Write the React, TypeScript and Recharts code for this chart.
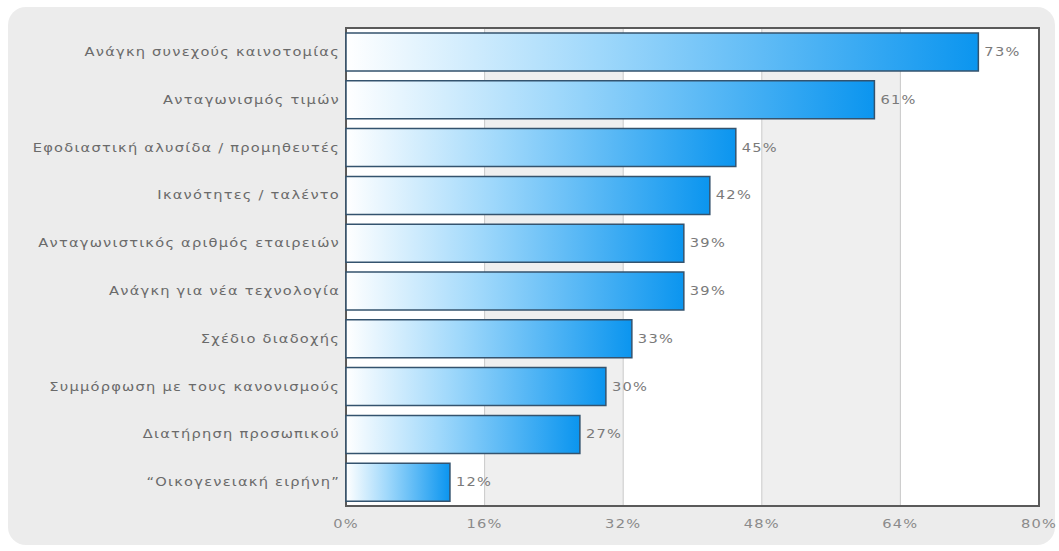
import React from "react";
import {
  BarChart,
  Bar,
  XAxis,
  YAxis,
  CartesianGrid,
  LabelList,
  ReferenceArea,
} from "recharts";

const categories = [
  "Ανάγκη συνεχούς καινοτομίας",
  "Ανταγωνισμός τιμών",
  "Εφοδιαστική αλυσίδα / προμηθευτές",
  "Ικανότητες / ταλέντο",
  "Ανταγωνιστικός αριθμός εταιρειών",
  "Ανάγκη για νέα τεχνολογία",
  "Σχέδιο διαδοχής",
  "Συμμόρφωση με τους κανονισμούς",
  "Διατήρηση προσωπικού",
  "\u201CΟικογενειακή ειρήνη\u201D",
];

const values = [73, 61, 45, 42, 39, 39, 33, 30, 27, 12];

const xTicks = [0, 16, 32, 48, 64, 80];

const data = categories.map((name, i) => ({ name, value: values[i] }));

const FONT = "'DejaVu Sans', Verdana, sans-serif";
const STRETCH = 1.22;

// the original font is wide and short, so stretch the text sideways
const WideText = ({ x, y, anchor, fill, children }: any) => (
  <text
    transform={`translate(${x},${y}) scale(${STRETCH},1)`}
    textAnchor={anchor}
    dominantBaseline="central"
    fill={fill}
    fontSize={12}
    fontFamily={FONT}
    letterSpacing={1}
  >
    {children}
  </text>
);

const CategoryTick = ({ x, y, payload }: any) => (
  <WideText x={x} y={y} anchor="end" fill="#6a6a6a">
    {payload.value}
  </WideText>
);

const PercentTick = ({ x, y, payload }: any) => (
  <WideText x={x} y={y + 6} anchor="middle" fill="#8a8a8a">
    {`${payload.value}%`}
  </WideText>
);

const ValueLabel = ({ x, y, width, height, value }: any) => (
  <WideText x={x + width + 6} y={y + height / 2} anchor="start" fill="#7a7a7a">
    {`${value}%`}
  </WideText>
);

export default function App() {
  return (
    <div
      style={{
        position: "absolute",
        left: 0,
        top: 0,
        width: 1059,
        height: 551,
        background: "#ffffff",
        fontFamily: FONT,
        overflow: "hidden",
      }}
    >
      <div
        style={{
          position: "absolute",
          left: 8,
          top: 7,
          width: 1047,
          height: 538,
          background: "#ececec",
          borderRadius: 18,
        }}
      />
      <div style={{ position: "absolute", left: 0, top: 0 }}>
        <BarChart
          width={1059}
          height={551}
          data={data}
          layout="vertical"
          margin={{ top: 28, right: 20, bottom: 15, left: 0 }}
          barSize={38}
        >
          <defs>
            <linearGradient id="barGrad" x1="0" y1="0" x2="1" y2="0">
              <stop offset="0%" stopColor="#ffffff" />
              <stop offset="40%" stopColor="#9fd8fb" />
              <stop offset="100%" stopColor="#0b95ef" />
            </linearGradient>
          </defs>
          <CartesianGrid
            horizontal={false}
            stroke="#c9c9c9"
            fill="#ffffff"
            verticalFill={["#ffffff", "#efefef"]}
            fillOpacity={1}
          />
          <XAxis
            type="number"
            domain={[0, 80]}
            ticks={xTicks}
            axisLine={false}
            tickLine={false}
            tickSize={0}
            tickMargin={12}
            height={30}
            interval={0}
            tick={<PercentTick />}
          />
          <YAxis
            type="category"
            dataKey="name"
            width={346}
            axisLine={false}
            tickLine={false}
            tickSize={0}
            tickMargin={6}
            interval={0}
            tick={<CategoryTick />}
          />
          <Bar
            dataKey="value"
            fill="url(#barGrad)"
            stroke="#34536e"
            strokeWidth={1.5}
            isAnimationActive={false}
          >
            <LabelList dataKey="value" content={<ValueLabel />} />
          </Bar>
          <ReferenceArea
            x1={0}
            x2={80}
            fill="none"
            stroke="#5a5a5a"
            strokeWidth={2}
            ifOverflow="visible"
          />
        </BarChart>
      </div>
    </div>
  );
}
